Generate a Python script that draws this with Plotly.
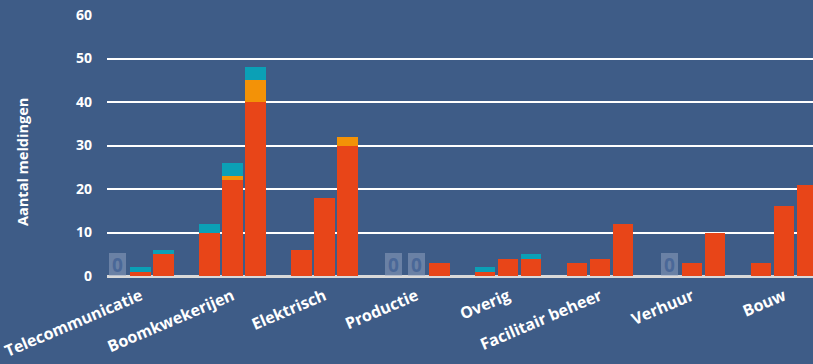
import plotly.graph_objects as go

categories = ["Telecommunicatie", "Boomkwekerijen", "Elektrisch", "Productie",
              "Overig", "Facilitair beheer", "Verhuur", "Bouw"]
years = ["Jaar 1", "Jaar 2", "Jaar 3"]

# values per year, per colour segment
rood = [
    [0, 10, 6, 0, 1, 3, 0, 3],
    [1, 22, 18, 0, 4, 4, 3, 16],
    [5, 40, 30, 3, 4, 12, 10, 21],
]
oranje = [
    [0, 0, 0, 0, 0, 0, 0, 0],
    [0, 1, 0, 0, 0, 0, 0, 0],
    [0, 5, 2, 0, 0, 0, 0, 0],
]
blauw = [
    [0, 2, 0, 0, 1, 0, 0, 0],
    [1, 3, 0, 0, 0, 0, 0, 0],
    [1, 3, 0, 0, 1, 0, 0, 0],
]
y_ticks = [0, 10, 20, 30, 40, 50, 60]

seg_names = ["Rood", "Oranje", "Blauw"]
seg_colors = ["#e84518", "#f39207", "#0ba0b6"]
offsets = [-0.25, 0.0, 0.25]
bar_w = 0.223
bg = "#3e5c87"
FONT = "Open Sans"

fig = go.Figure()
for yi, year in enumerate(years):
    xs = [i + offsets[yi] for i in range(len(categories))]
    for si, series in enumerate([rood, oranje, blauw]):
        fig.add_trace(go.Bar(
            x=xs, y=series[yi], width=bar_w, name=f"{seg_names[si]} {year}",
            marker=dict(color=seg_colors[si], line=dict(width=0)),
            showlegend=False, hoverinfo="skip",
        ))

annotations = []
for yi in range(len(years)):
    for ci in range(len(categories)):
        total = rood[yi][ci] + oranje[yi][ci] + blauw[yi][ci]
        if total == 0:
            annotations.append(dict(
                x=ci + offsets[yi], y=0, xref="x", yref="y",
                yanchor="bottom", xanchor="center", text="0", showarrow=False,
                width=17, height=23, borderpad=0, borderwidth=0,
                bgcolor="rgba(150,165,195,0.5)",
                font=dict(family=FONT, size=19, color="#4a6898", weight="bold"),
            ))

annotations.append(dict(
    text="Aantal meldingen", xref="paper", yref="paper",
    x=-0.119, y=0.437, xanchor="center", yanchor="middle", textangle=-90,
    showarrow=False, font=dict(family=FONT, size=14.5, color="white", weight="bold"),
))

fig.update_layout(
    width=813, height=364,
    margin=dict(l=107, r=0, t=15, b=88, autoexpand=False),
    paper_bgcolor=bg, plot_bgcolor=bg,
    barmode="stack", bargap=0,
    annotations=annotations,
    font=dict(family=FONT, color="white", size=14, weight="bold"),
    xaxis=dict(
        range=[-0.364, 7.315], tickmode="array",
        tickvals=list(range(len(categories))), ticktext=categories,
        tickangle=-23, showgrid=False, zeroline=False, showline=False,
        ticks="", ticklabelstandoff=7, automargin=False,
        tickfont=dict(family=FONT, size=16, color="white", weight="bold"),
    ),
    yaxis=dict(
        range=[0, 60], tickmode="array", tickvals=y_ticks,
        showgrid=True, gridcolor="white", gridwidth=2,
        zeroline=True, zerolinecolor="#d9d9d9", zerolinewidth=3,
        showline=False, ticks="", ticklabelstandoff=14, automargin=False,
        tickfont=dict(family=FONT, size=14, color="white", weight="bold"),
    ),
)

fig.write_html(
    "out.html",
    config={"displayModeBar": False},
    post_script="document.body.style.margin='0';document.body.style.overflow='hidden';",
)
